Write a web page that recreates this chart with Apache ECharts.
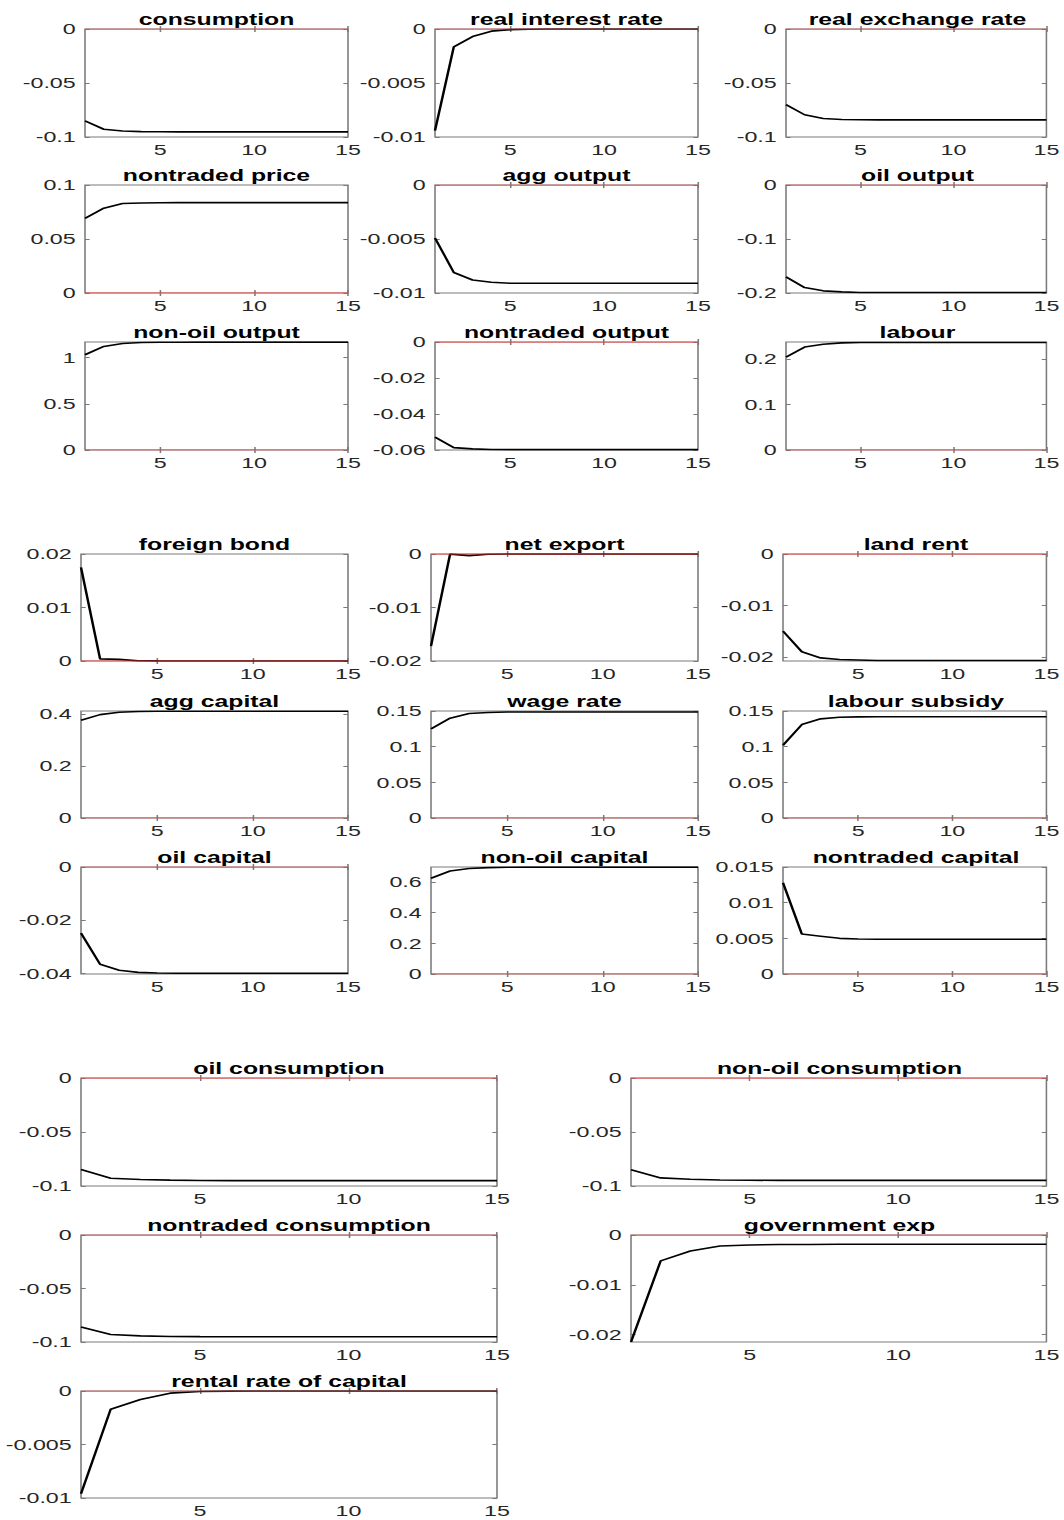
<!DOCTYPE html>
<html>
<head>
<meta charset="utf-8">
<script src="https://cdn.jsdelivr.net/npm/echarts@6/dist/echarts.min.js"></script>
<style>
  html, body { margin: 0; padding: 0; background: #fff; overflow: hidden; }
  #chart { height: 1520px; transform-origin: 0 0; }
</style>
</head>
<body>
<div id="chart"></div>
<script>
// Impulse responses over 15 periods
const periods = [1, 2, 3, 4, 5, 6, 7, 8, 9, 10, 11, 12, 13, 14, 15];

const consumption          = [-0.0850, -0.0928, -0.0945, -0.0950, -0.0952, -0.0953, -0.0953, -0.0953, -0.0953, -0.0953, -0.0953, -0.0953, -0.0953, -0.0953, -0.0953];
const realInterestRate     = [-0.0094, -0.00165, -0.0007, -0.0002, -0.00006, -0.00002, 0, 0, 0, 0, 0, 0, 0, 0, 0];
const realExchangeRate     = [-0.0700, -0.0794, -0.0829, -0.0838, -0.0840, -0.0841, -0.0841, -0.0841, -0.0841, -0.0841, -0.0841, -0.0841, -0.0841, -0.0841, -0.0841];
const nontradedPrice       = [0.0692, 0.0785, 0.0828, 0.0834, 0.0836, 0.0837, 0.0837, 0.0837, 0.0837, 0.0837, 0.0837, 0.0837, 0.0837, 0.0837, 0.0837];
const aggOutput            = [-0.0049, -0.0081, -0.0088, -0.0090, -0.0091, -0.0091, -0.0091, -0.0091, -0.0091, -0.0091, -0.0091, -0.0091, -0.0091, -0.0091, -0.0091];
const oilOutput            = [-0.170, -0.190, -0.196, -0.198, -0.199, -0.199, -0.199, -0.199, -0.199, -0.199, -0.199, -0.199, -0.199, -0.199, -0.199];
const nonOilOutput         = [1.030, 1.120, 1.152, 1.162, 1.165, 1.166, 1.167, 1.167, 1.167, 1.167, 1.167, 1.167, 1.167, 1.167, 1.167];
const nontradedOutput      = [-0.0528, -0.0587, -0.0594, -0.0597, -0.0598, -0.0598, -0.0598, -0.0598, -0.0598, -0.0598, -0.0598, -0.0598, -0.0598, -0.0598, -0.0598];
const labour               = [0.204, 0.226, 0.232, 0.235, 0.236, 0.236, 0.236, 0.236, 0.236, 0.236, 0.236, 0.236, 0.236, 0.236, 0.236];

const foreignBond          = [0.0175, 0.0004, 0.0003, 0.00005, 0.00002, 0, 0, 0, 0, 0, 0, 0, 0, 0, 0];
const netExport            = [-0.0172, -0.00002, -0.0003, -0.00005, 0, 0, 0, 0, 0, 0, 0, 0, 0, 0, 0];
const landRent             = [-0.0150, -0.0190, -0.0202, -0.0205, -0.0206, -0.0207, -0.0207, -0.0207, -0.0207, -0.0207, -0.0207, -0.0207, -0.0207, -0.0207, -0.0207];
const aggCapital           = [0.376, 0.398, 0.407, 0.410, 0.411, 0.411, 0.411, 0.411, 0.411, 0.411, 0.411, 0.411, 0.411, 0.411, 0.411];
const wageRate             = [0.125, 0.140, 0.1465, 0.148, 0.1485, 0.1487, 0.1487, 0.1487, 0.1487, 0.1487, 0.1487, 0.1487, 0.1487, 0.1487, 0.1487];
const labourSubsidy        = [0.102, 0.131, 0.139, 0.1412, 0.1418, 0.142, 0.142, 0.142, 0.142, 0.142, 0.142, 0.142, 0.142, 0.142, 0.142];
const oilCapital           = [-0.0249, -0.0366, -0.0389, -0.0397, -0.0399, -0.0400, -0.0400, -0.0400, -0.0400, -0.0400, -0.0400, -0.0400, -0.0400, -0.0400, -0.0400];
const nonOilCapital        = [0.625, 0.672, 0.688, 0.694, 0.696, 0.697, 0.697, 0.697, 0.697, 0.697, 0.697, 0.697, 0.697, 0.697, 0.697];
const nontradedCapital     = [0.0128, 0.0056, 0.0053, 0.0050, 0.0049, 0.00488, 0.00488, 0.00488, 0.00488, 0.00488, 0.00488, 0.00488, 0.00488, 0.00488, 0.00488];

const oilConsumption       = [-0.0847, -0.0928, -0.0940, -0.0946, -0.0949, -0.0950, -0.0950, -0.0950, -0.0950, -0.0950, -0.0950, -0.0950, -0.0950, -0.0950, -0.0950];
const nonOilConsumption    = [-0.0850, -0.0925, -0.0938, -0.0944, -0.0947, -0.0948, -0.0948, -0.0948, -0.0948, -0.0948, -0.0948, -0.0948, -0.0948, -0.0948, -0.0948];
const nontradedConsumption = [-0.0860, -0.0930, -0.0943, -0.0948, -0.0950, -0.0951, -0.0951, -0.0951, -0.0951, -0.0951, -0.0951, -0.0951, -0.0951, -0.0951, -0.0951];
const governmentExp        = [-0.0215, -0.0052, -0.0032, -0.0022, -0.0020, -0.0019, -0.0019, -0.00187, -0.00187, -0.00187, -0.00187, -0.00187, -0.00187, -0.00187, -0.00187];
const rentalRate           = [-0.0096, -0.0017, -0.0008, -0.0002, -0.00005, -0.00001, 0, 0, 0, 0, 0, 0, 0, 0, 0];

// Tick values
const xTicks        = [5, 10, 15];
const ticksNeg01    = [-0.1, -0.05, 0];
const ticksNeg001   = [-0.01, -0.005, 0];
const ticksPos01    = [0, 0.05, 0.1];
const ticksNeg02    = [-0.2, -0.1, 0];
const ticksUnit     = [0, 0.5, 1];
const ticksNeg006   = [-0.06, -0.04, -0.02, 0];
const ticksLabour   = [0, 0.1, 0.2];
const ticksPos002   = [0, 0.01, 0.02];
const ticksNeg002   = [-0.02, -0.01, 0];
const ticksPos04    = [0, 0.2, 0.4];
const ticksPos015   = [0, 0.05, 0.1, 0.15];
const ticksNeg004   = [-0.04, -0.02, 0];
const ticksPos06    = [0, 0.2, 0.4, 0.6];
const ticksPos0015  = [0, 0.005, 0.01, 0.015];

// Figure is drawn narrow and stretched horizontally
const S = 1.55;
const W = 1064 / S;

// Panel boxes: three stacked figures
const b1 = { L: [85, 435, 786], R: [348, 698, 1049], T: [29, 185, 342], B: [137, 293, 450] };
const b2 = { L: [81, 431, 783], R: [348, 698, 1049], T: [554, 711, 867], B: [661, 818, 974] };
const b3 = { L: [81, 631], R: [497, 1048], T: [1078, 1235, 1391], B: [1186, 1342, 1498] };

const panels = [
  { title: 'consumption',            data: consumption,          ticks: ticksNeg01,   min: -0.1,    max: 0,     blk: b1, r: 0, c: 0 },
  { title: 'real interest rate',     data: realInterestRate,     ticks: ticksNeg001,  min: -0.01,   max: 0,     blk: b1, r: 0, c: 1 },
  { title: 'real exchange rate',     data: realExchangeRate,     ticks: ticksNeg01,   min: -0.1,    max: 0,     blk: b1, r: 0, c: 2 },
  { title: 'nontraded price',        data: nontradedPrice,       ticks: ticksPos01,   min: 0,       max: 0.1,   blk: b1, r: 1, c: 0 },
  { title: 'agg output',             data: aggOutput,            ticks: ticksNeg001,  min: -0.01,   max: 0,     blk: b1, r: 1, c: 1 },
  { title: 'oil output',             data: oilOutput,            ticks: ticksNeg02,   min: -0.2,    max: 0,     blk: b1, r: 1, c: 2 },
  { title: 'non-oil output',         data: nonOilOutput,         ticks: ticksUnit,    min: 0,       max: 1.168, blk: b1, r: 2, c: 0 },
  { title: 'nontraded output',       data: nontradedOutput,      ticks: ticksNeg006,  min: -0.06,   max: 0,     blk: b1, r: 2, c: 1 },
  { title: 'labour',                 data: labour,               ticks: ticksLabour,  min: 0,       max: 0.237, blk: b1, r: 2, c: 2 },

  { title: 'foreign bond',           data: foreignBond,          ticks: ticksPos002,  min: 0,       max: 0.02,  blk: b2, r: 0, c: 0 },
  { title: 'net export',             data: netExport,            ticks: ticksNeg002,  min: -0.02,   max: 0,     blk: b2, r: 0, c: 1 },
  { title: 'land rent',              data: landRent,             ticks: ticksNeg002,  min: -0.0208, max: 0,     blk: b2, r: 0, c: 2 },
  { title: 'agg capital',            data: aggCapital,           ticks: ticksPos04,   min: 0,       max: 0.412, blk: b2, r: 1, c: 0 },
  { title: 'wage rate',              data: wageRate,             ticks: ticksPos015,  min: 0,       max: 0.15,  blk: b2, r: 1, c: 1 },
  { title: 'labour subsidy',         data: labourSubsidy,        ticks: ticksPos015,  min: 0,       max: 0.15,  blk: b2, r: 1, c: 2 },
  { title: 'oil capital',            data: oilCapital,           ticks: ticksNeg004,  min: -0.0403, max: 0,     blk: b2, r: 2, c: 0 },
  { title: 'non-oil capital',        data: nonOilCapital,        ticks: ticksPos06,   min: 0,       max: 0.698, blk: b2, r: 2, c: 1 },
  { title: 'nontraded capital',      data: nontradedCapital,     ticks: ticksPos0015, min: 0,       max: 0.015, blk: b2, r: 2, c: 2 },

  { title: 'oil consumption',        data: oilConsumption,       ticks: ticksNeg01,   min: -0.1,    max: 0,     blk: b3, r: 0, c: 0 },
  { title: 'non-oil consumption',    data: nonOilConsumption,    ticks: ticksNeg01,   min: -0.1,    max: 0,     blk: b3, r: 0, c: 1 },
  { title: 'nontraded consumption',  data: nontradedConsumption, ticks: ticksNeg01,   min: -0.1,    max: 0,     blk: b3, r: 1, c: 0 },
  { title: 'government exp',         data: governmentExp,        ticks: ticksNeg002,  min: -0.0215, max: 0,     blk: b3, r: 1, c: 1 },
  { title: 'rental rate of capital', data: rentalRate,           ticks: ticksNeg001,  min: -0.01,   max: 0,     blk: b3, r: 2, c: 0 }
];

const FONT = 'Liberation Sans, Arial, Helvetica, sans-serif';
const FRAME = '#7a7a7a';
const fmt = v => String(+v.toFixed(6));

const grid = [], xAxis = [], yAxis = [], series = [], title = [];

panels.forEach((p, i) => {
  const L = p.blk.L[p.c], R = p.blk.R[p.c], T = p.blk.T[p.r], B = p.blk.B[p.r];
  grid.push({
    left: L / S, top: T, width: (R - L) / S, height: B - T,
    show: true, borderColor: FRAME, borderWidth: 1, backgroundColor: '#fff'
  });
  title.push({
    text: p.title, left: ((L + R) / 2) / S, top: T - 18, textAlign: 'center', padding: 0,
    textStyle: { fontFamily: FONT, fontWeight: 'bold', fontSize: 16, color: '#000', lineHeight: 16 }
  });
  const tickStyle = { show: true, inside: true, length: 3, lineStyle: { color: FRAME, width: 1 } };
  // bottom and top x axes
  xAxis.push({
    type: 'value', gridIndex: i, min: 1, max: 15, position: 'bottom',
    axisLine: { show: false }, splitLine: { show: false },
    axisTick: Object.assign({ customValues: xTicks }, tickStyle),
    axisLabel: { customValues: xTicks, margin: 5, color: '#262626', fontFamily: FONT, fontSize: 15, formatter: fmt }
  });
  xAxis.push({
    type: 'value', gridIndex: i, min: 1, max: 15, position: 'top',
    axisLine: { show: false }, splitLine: { show: false },
    axisTick: Object.assign({ customValues: xTicks }, tickStyle),
    axisLabel: { show: false }
  });
  // left and right y axes
  yAxis.push({
    type: 'value', gridIndex: i, min: p.min, max: p.max, position: 'left',
    axisLine: { show: false }, splitLine: { show: false },
    axisTick: Object.assign({ customValues: p.ticks }, tickStyle),
    axisLabel: { customValues: p.ticks, margin: 6, color: '#262626', fontFamily: FONT, fontSize: 15, formatter: fmt }
  });
  yAxis.push({
    type: 'value', gridIndex: i, min: p.min, max: p.max, position: 'right',
    axisLine: { show: false }, splitLine: { show: false },
    axisTick: Object.assign({ customValues: p.ticks }, tickStyle),
    axisLabel: { show: false }
  });
  // response path
  series.push({
    type: 'line', xAxisIndex: 2 * i, yAxisIndex: 2 * i,
    data: periods.map((t, k) => [t, p.data[k]]),
    showSymbol: false, symbol: 'none', silent: true, animation: false, z: 3,
    lineStyle: { color: '#000', width: 1.6 }
  });
  // zero reference line
  series.push({
    type: 'line', xAxisIndex: 2 * i, yAxisIndex: 2 * i,
    data: periods.map(t => [t, 0]),
    showSymbol: false, symbol: 'none', silent: true, animation: false, z: 4,
    lineStyle: { color: '#ff3030', width: 1.2, opacity: 0.85 }
  });
});

const el = document.getElementById('chart');
el.style.width = W + 'px';
el.style.transform = 'scaleX(' + S + ')';
const chart = echarts.init(el, null, { renderer: 'svg', width: W, height: 1520 });
chart.setOption({ animation: false, backgroundColor: '#fff', title, grid, xAxis, yAxis, series });
</script>
</body>
</html>
